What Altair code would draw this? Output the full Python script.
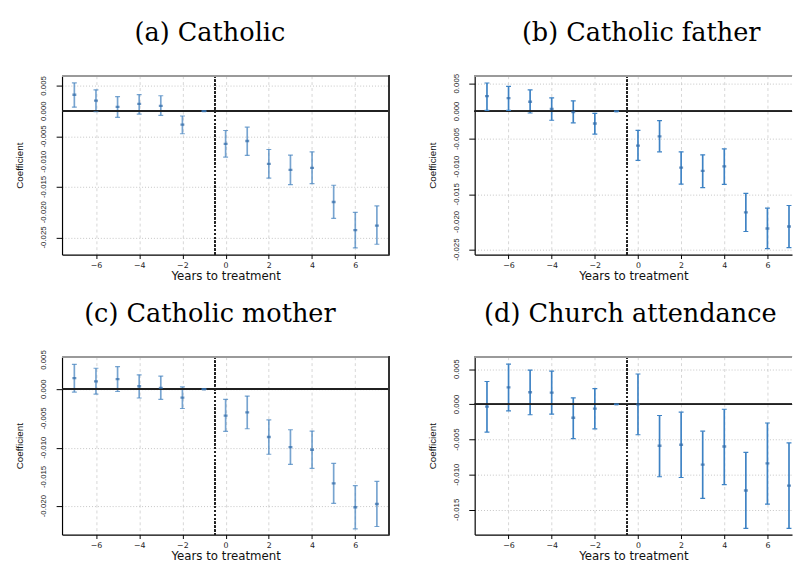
import altair as alt
import pandas as pd

years = list(range(-7, 8))
x_ticks = [-6, -4, -2, 0, 2, 4, 6]

# (a) Catholic
a_coef = [0.00325, 0.00208, 0.00084, 0.00143, 0.00104, -0.00266, 0.0, -0.00649, -0.00591, -0.01045, -0.01162, -0.01123, -0.01799, -0.02357, -0.02266]
a_lo = [0.00078, -0.00013, -0.00123, -0.00058, -0.00084, -0.00448, 0.0, -0.00909, -0.00877, -0.01325, -0.01455, -0.01435, -0.02123, -0.02708, -0.02636]
a_hi = [0.00558, 0.00422, 0.00286, 0.00325, 0.00305, -0.00097, 0.0, -0.00383, -0.00318, -0.00760, -0.00870, -0.00805, -0.01468, -0.02006, -0.01877]

# (b) Catholic father
b_coef = [0.00274, 0.00238, 0.00173, 0.00042, -0.00012, -0.00220, 0.0, -0.00619, -0.00452, -0.01018, -0.01077, -0.00994, -0.01827, -0.02119, -0.02083]
b_lo = [0.00018, 0.00018, -0.00030, -0.00161, -0.00208, -0.00411, 0.0, -0.00887, -0.00732, -0.01315, -0.01381, -0.01321, -0.02173, -0.02482, -0.02464]
b_hi = [0.00512, 0.00452, 0.00387, 0.00244, 0.00190, -0.00036, 0.0, -0.00345, -0.00167, -0.00732, -0.00786, -0.00679, -0.01482, -0.01750, -0.01702]

# (c) Catholic mother
c_coef = [0.00190, 0.00134, 0.00173, 0.00050, 0.00022, -0.00145, 0.0, -0.00453, -0.00397, -0.00817, -0.00990, -0.01035, -0.01611, -0.02019, -0.01963]
c_lo = [-0.00050, -0.00084, -0.00039, -0.00151, -0.00173, -0.00330, 0.0, -0.00721, -0.00677, -0.01113, -0.01286, -0.01353, -0.01952, -0.02388, -0.02349]
c_hi = [0.00425, 0.00358, 0.00386, 0.00246, 0.00224, 0.00039, 0.0, -0.00173, -0.00117, -0.00526, -0.00694, -0.00716, -0.01270, -0.01650, -0.01577]

# (d) Church attendance
d_coef = [-0.00032, 0.00241, 0.00172, 0.00167, -0.00190, -0.00060, 0.0, 0.00000, -0.00589, -0.00575, -0.00858, -0.00599, -0.01225, -0.00840, -0.01155]
d_lo = [-0.00394, -0.00093, -0.00148, -0.00139, -0.00487, -0.00348, 0.0, -0.00432, -0.01030, -0.01040, -0.01336, -0.01142, -0.01763, -0.01420, -0.01763]
d_hi = [0.00325, 0.00571, 0.00487, 0.00473, 0.00093, 0.00223, 0.0, 0.00432, -0.00158, -0.00111, -0.00381, -0.00070, -0.00682, -0.00265, -0.00548]

titles = ["(a) Catholic", "(b) Catholic father", "(c) Catholic mother", "(d) Church attendance"]
y_ticks_ab = [0.005, 0.0, -0.005, -0.010, -0.015, -0.020, -0.025]
y_labels_ab = ["0.005", "0.000", "-0.005", "-0.010", "-0.015", "-0.020", "-0.025"]
y_ticks_c = [0.005, 0.0, -0.005, -0.010, -0.015, -0.020]
y_labels_c = ["0.005", "0.000", "-0.005", "-0.010", "-0.015", "-0.020"]
y_ticks_d = [0.005, 0.0, -0.005, -0.010, -0.015]
y_labels_d = ["0.005", "0.000", "-0.005", "-0.010", "-0.015"]

SANS = "Liberation Sans, Arial"


def panel(coef, lo, hi, title, ydom, yvals, ylabs, xdom, w, h, color, op, right_border, dx, toff):
    df = pd.DataFrame({"t": years, "coef": coef, "lo": lo, "hi": hi})
    lab_df = pd.DataFrame({"v": yvals, "lab": ylabs})
    xs = alt.Scale(domain=xdom, nice=False, zero=False)
    ys = alt.Scale(domain=ydom, nice=False, zero=False)
    xax = alt.Axis(values=x_ticks, title="Years to treatment", grid=True,
                   gridDash=[3, 3], gridColor="#d6d6d6", gridWidth=1,
                   domainColor="black", domainWidth=1.2, tickColor="black",
                   tickSize=4, labelPadding=3, labelFont="DejaVu Sans",
                   labelFontSize=8, labelColor="#222", titleFont="DejaVu Sans",
                   titleFontSize=12, titleFontWeight="normal", titleColor="#111",
                   titlePadding=1, labelFlush=False, labelOverlap=False)
    yax = alt.Axis(values=yvals, labels=False, title="Coefficient",
                   grid=True, gridDash=[1, 2], gridColor="#c4c4c4", gridWidth=1,
                   domainColor="black", domainWidth=1.2, tickColor="black",
                   tickSize=6, minExtent=23, maxExtent=23,
                   titleFont=SANS, titleFontSize=10, titleFontWeight="normal",
                   titleColor="#111", titlePadding=15)
    X = alt.X("t:Q", scale=xs, axis=xax)
    base = alt.Chart(df)
    layers = [
        base.mark_rule(color=color, opacity=op, strokeWidth=1.7, clip=True).encode(
            x=X, y=alt.Y("lo:Q", scale=ys, axis=yax), y2="hi:Q"),
        base.mark_rule(color="#222222", strokeWidth=1).encode(y=alt.datum(0)),
        base.mark_rule(color="#222222", strokeWidth=1.3, strokeDash=[2, 2]).encode(x=alt.datum(-0.5)),
        base.mark_tick(color=color, opacity=op, orient="horizontal", size=5, thickness=1.2, clip=True).encode(
            x=X, y=alt.Y("lo:Q", scale=ys, axis=yax)),
        base.mark_tick(color=color, opacity=op, orient="horizontal", size=5, thickness=1.2, clip=True).encode(
            x=X, y=alt.Y("hi:Q", scale=ys, axis=yax)),
        base.mark_tick(color="#2f6aa8", orient="horizontal", size=4, thickness=2.4, clip=True).encode(
            x=X, y=alt.Y("coef:Q", scale=ys, axis=yax)),
        base.mark_rule(color="#9a9a9a", strokeWidth=1.5).encode(
            x=alt.value(0), x2=alt.value(w), y=alt.value(0)),
        alt.Chart(lab_df).mark_text(angle=270, font=SANS, fontSize=8, color="#222",
                                     align="center", baseline="middle").encode(
            x=alt.value(-18), y=alt.Y("v:Q", scale=ys, axis=yax), text="lab:N"),
    ]
    if right_border:
        layers.append(base.mark_rule(color="#333333", strokeWidth=1.2).encode(
            x=alt.value(w), y=alt.value(0), y2=alt.value(h)))
    return alt.layer(*layers).properties(
        width=w, height=h,
        title=alt.TitleParams(title, font="DejaVu Serif", fontSize=26,
                              fontWeight="normal", color="black", anchor="middle",
                              frame="group", offset=toff, dx=dx))


xdom_left = [-7.57, 7.57]
xdom_right = [-7.57, 7.14]

pa = panel(a_coef, a_lo, a_hi, titles[0], [-0.0284, 0.0070], y_ticks_ab, y_labels_ab, xdom_left, 333, 182, "#4a86c0", 0.75, True, -16, 30)
pb = panel(b_coef, b_lo, b_hi, titles[1], [-0.0259, 0.00643], y_ticks_ab, y_labels_ab, xdom_right, 323, 182, "#3d82c4", 1.0, False, 8, 28)
pc = panel(c_coef, c_lo, c_hi, titles[2], [-0.02487, 0.00555], y_ticks_c, y_labels_c, xdom_left, 333, 181, "#4a86c0", 0.75, True, -16, 23.5)
pd_ = panel(d_coef, d_lo, d_hi, titles[3], [-0.01852, 0.00677], y_ticks_d, y_labels_d, xdom_right, 323, 181, "#3d82c4", 1.0, False, -3, 30)

chart = alt.vconcat(
    alt.hconcat(pa, pb, spacing=38),
    alt.hconcat(pc, pd_, spacing=38),
    spacing=20,
).properties(
    padding={"left": 7, "top": 7, "right": 0, "bottom": 0},
    background="white",
).configure_view(stroke=None)

chart.save("out.html", embed_options={"renderer": "svg", "actions": False})
